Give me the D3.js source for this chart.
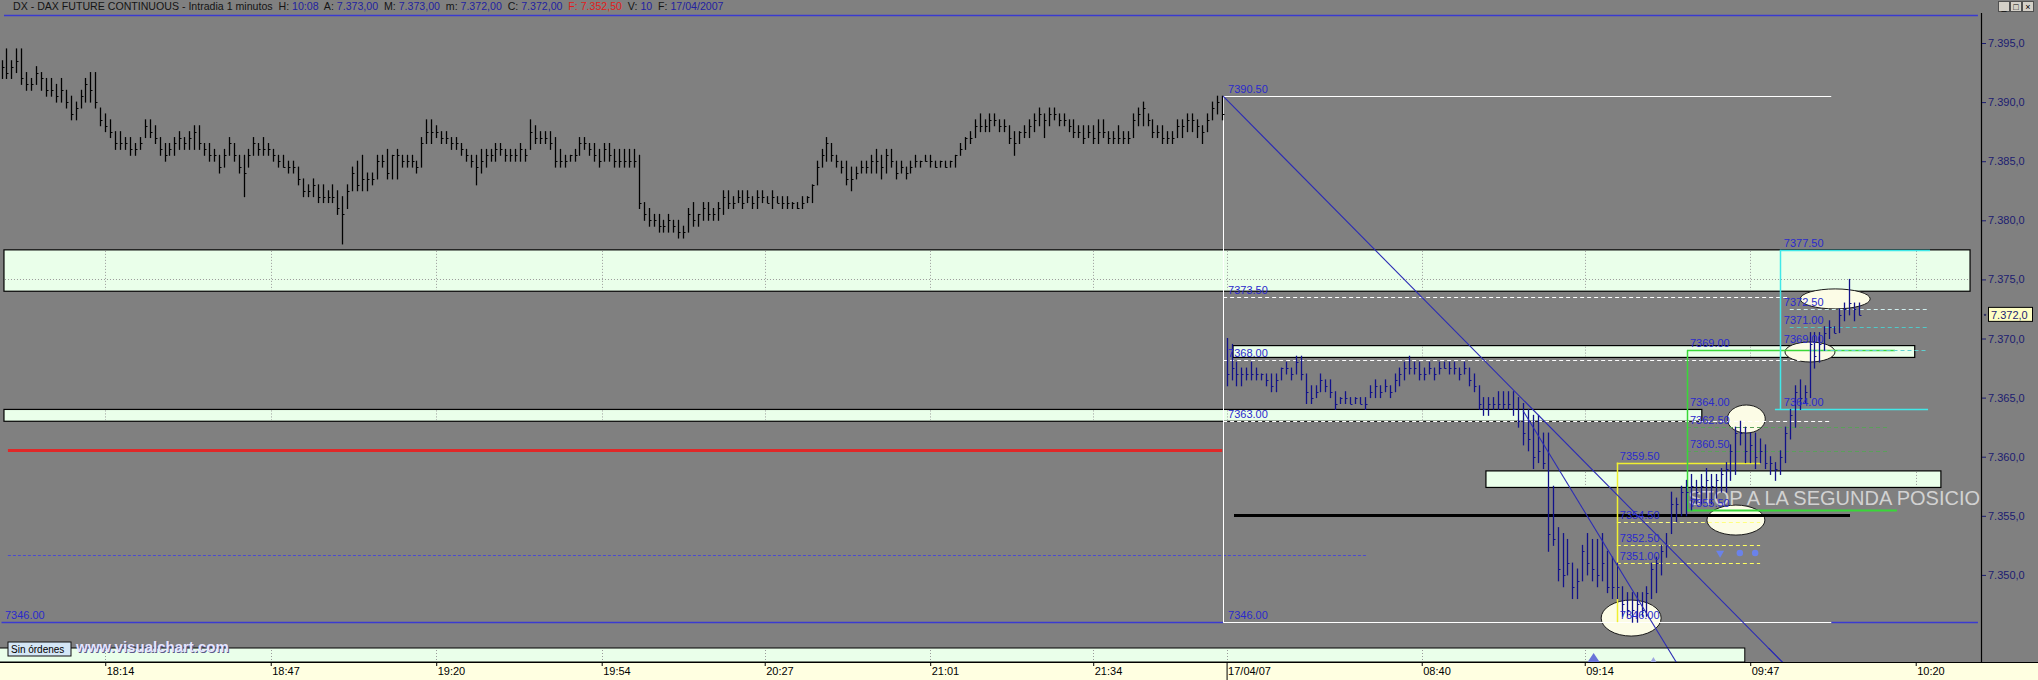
<!DOCTYPE html>
<html>
<head>
<meta charset="utf-8">
<script src="https://cdn.jsdelivr.net/npm/d3@7"></script>
<style>
  html, body { margin: 0; padding: 0; background: #808080; }
  svg { display: block; font-family: "Liberation Sans", Arial, sans-serif; }
</style>
</head>
<body>
<svg id="chart" width="2038" height="680"></svg>
<script>
'use strict';

// ---- data: 1-minute bars, day 1 = 16/04 17:53 .. 22:00, day 2 = 17/04 08:00 .. 10:08
var d1High = [
  7393.5, 7394.5, 7393.5, 7394.5, 7394.5, 7392.5, 7392, 7393, 7392.5, 7392,
  7392, 7391.5, 7392, 7391, 7390.5, 7390, 7391, 7392, 7392.5, 7392.5,
  7389.5, 7389, 7388.5, 7387.5, 7387.5, 7387, 7387, 7386.5, 7387, 7388.5,
  7388.5, 7388, 7387, 7386.5, 7386.5, 7387, 7387.5, 7387, 7387.5, 7388,
  7388, 7386.5, 7386.5, 7386, 7385.5, 7386, 7387, 7386.5, 7385.5, 7385.5,
  7386, 7387, 7386.5, 7387, 7386.5, 7386, 7385.5, 7385.5, 7385, 7385,
  7384.5, 7383.5, 7383, 7383.5, 7383, 7383, 7382.5, 7383, 7382.5, 7382,
  7383, 7384.5, 7385, 7385.5, 7384, 7384, 7385.5, 7385.5, 7386, 7385.5,
  7386, 7385.5, 7385.5, 7385.5, 7385, 7387, 7388.5, 7388.5, 7388, 7387.5,
  7387.5, 7387, 7387, 7386.5, 7386, 7385.5, 7385.5, 7386, 7386, 7386,
  7386.5, 7386.5, 7386, 7386, 7386, 7386.5, 7386, 7388.5, 7388, 7387.5,
  7387.5, 7387.5, 7387, 7386, 7385.5, 7385.5, 7386, 7387, 7387, 7386.5,
  7386.5, 7386, 7386.5, 7386.5, 7386, 7386, 7386, 7386, 7386, 7385.5,
  7381.5, 7381, 7380.5, 7380.5, 7380, 7380.5, 7380, 7380, 7379.5, 7381,
  7381.5, 7380.5, 7381.5, 7381.5, 7381, 7381.5, 7382.5, 7382.5, 7382, 7382.5,
  7382.5, 7382.5, 7382, 7382.5, 7382.5, 7382, 7382.5, 7382, 7382, 7382,
  7381.5, 7381.5, 7382, 7382, 7383, 7385, 7386, 7387, 7386.5, 7385.5,
  7385, 7385, 7384.5, 7384.5, 7385, 7385, 7385.5, 7386, 7385.5, 7386,
  7386, 7385, 7385, 7384.5, 7385, 7385.5, 7385, 7385.5, 7385.5, 7385,
  7385, 7385, 7385, 7385.5, 7386.5, 7387, 7387.5, 7388.5, 7389, 7388.5,
  7389, 7389, 7388.5, 7388.5, 7388, 7387.5, 7387.5, 7388, 7388.5, 7389,
  7389.5, 7389, 7389.5, 7389.5, 7389, 7389, 7388.5, 7388.5, 7388, 7388,
  7388, 7388, 7388.5, 7388.5, 7387.5, 7387.5, 7388, 7387.5, 7387.5, 7389,
  7389.5, 7390, 7389, 7388.5, 7388, 7388, 7387.5, 7387.5, 7388.5, 7388.5,
  7389, 7389, 7388.5, 7388, 7389, 7390, 7390.5, 7390.5
];
var d1Low = [
  7392, 7392, 7392, 7392.5, 7391.5, 7391, 7391, 7391.5, 7391, 7390.5,
  7390.5, 7390, 7390, 7389.5, 7388.5, 7388.5, 7389.5, 7390, 7390, 7389.5,
  7388, 7387.5, 7387, 7386, 7386, 7386, 7385.5, 7385.5, 7386, 7387,
  7387, 7386.5, 7385.5, 7385, 7385.5, 7385.5, 7386, 7386, 7386, 7386,
  7386, 7385.5, 7385, 7385, 7384, 7384.5, 7385.5, 7385, 7384, 7382,
  7384.5, 7385.5, 7385.5, 7385.5, 7385.5, 7385, 7384.5, 7384.5, 7384, 7384,
  7383, 7382, 7382, 7382, 7381.5, 7381.5, 7381.5, 7381.5, 7380.5, 7378,
  7381, 7382.5, 7382.5, 7382.5, 7382.5, 7383, 7383.5, 7384.5, 7383.5, 7383.5,
  7383.5, 7384.5, 7384.5, 7384.5, 7384, 7384.5, 7386.5, 7386.5, 7387, 7386.5,
  7386.5, 7386, 7386, 7385.5, 7385, 7384.5, 7383, 7384, 7384.5, 7385,
  7385, 7385.5, 7385, 7385, 7385, 7385, 7385, 7386, 7386.5, 7386.5,
  7386.5, 7386, 7384.5, 7384.5, 7384.5, 7385, 7385, 7385.5, 7386, 7385.5,
  7385, 7384.5, 7385, 7385, 7384.5, 7384.5, 7384.5, 7384.5, 7384.5, 7381,
  7380, 7379.5, 7379.5, 7379, 7379, 7379, 7379, 7378.5, 7378.5, 7379,
  7379.5, 7379.5, 7380, 7380, 7380, 7380, 7380.5, 7381, 7381, 7381.5,
  7381, 7381.5, 7381, 7381, 7381.5, 7381.5, 7381, 7381.5, 7381, 7381,
  7381, 7381, 7381, 7381.5, 7381.5, 7383, 7384.5, 7385, 7385, 7384.5,
  7384, 7383, 7382.5, 7383.5, 7384, 7384, 7384, 7384, 7383.5, 7384,
  7384.5, 7383.5, 7384, 7383.5, 7384, 7384.5, 7384.5, 7385, 7384.5, 7384.5,
  7384.5, 7384.5, 7384.5, 7384.5, 7385.5, 7386, 7386.5, 7387, 7387.5, 7387.5,
  7387.5, 7388, 7387.5, 7387.5, 7386.5, 7385.5, 7386.5, 7387, 7387, 7387.5,
  7388, 7387, 7388, 7388.5, 7388, 7388, 7387.5, 7387, 7387, 7386.5,
  7387, 7386.5, 7386.5, 7387, 7386.5, 7386.5, 7386.5, 7386.5, 7386.5, 7387,
  7388, 7388, 7388, 7387, 7387, 7386.5, 7386.5, 7386.5, 7387, 7387,
  7387.5, 7387.5, 7387, 7386.5, 7387.5, 7388.5, 7389, 7388.5
];
var d1Close = [
  7393, 7392.5, 7393, 7393.5, 7392, 7391.5, 7391.5, 7392.5, 7392, 7391,
  7391, 7390.5, 7391, 7390, 7389, 7389.5, 7390.5, 7391.5, 7391, 7390,
  7388.5, 7388, 7387.5, 7386.5, 7386.5, 7386.5, 7386, 7386, 7386.5, 7388,
  7387.5, 7387, 7386, 7385.5, 7386, 7386.5, 7387, 7386.5, 7387, 7387.5,
  7386.5, 7386, 7385.5, 7385.5, 7384.5, 7385.5, 7386.5, 7385.5, 7384.5, 7384,
  7385.5, 7386.5, 7386, 7386, 7386, 7385.5, 7385, 7384.5, 7384.5, 7384.5,
  7383.5, 7382.5, 7382.5, 7383, 7382, 7382, 7382, 7382, 7381, 7380.5,
  7382.5, 7384, 7383, 7383.5, 7383.5, 7383.5, 7385, 7385, 7384, 7385.5,
  7385.5, 7385, 7385, 7385, 7384.5, 7386.5, 7387.5, 7387.5, 7387.5, 7387,
  7387, 7386.5, 7386.5, 7386, 7385.5, 7385, 7384.5, 7385, 7385.5, 7385.5,
  7386, 7386, 7385.5, 7385.5, 7385.5, 7386, 7385.5, 7387.5, 7387, 7387,
  7387, 7386.5, 7385, 7385, 7385, 7385.5, 7385.5, 7386.5, 7386.5, 7386,
  7385.5, 7385, 7386, 7385.5, 7385, 7385, 7385, 7385, 7385, 7381.5,
  7380.5, 7380, 7380, 7379.5, 7379.5, 7380, 7379.5, 7379, 7379, 7380.5,
  7380, 7380.5, 7381, 7380.5, 7380.5, 7381, 7382, 7381.5, 7381.5, 7382,
  7381.5, 7382, 7381.5, 7382, 7382, 7381.5, 7382, 7381.5, 7381.5, 7381.5,
  7381.5, 7381, 7381.5, 7382, 7383, 7384.5, 7385.5, 7386.5, 7385.5, 7385,
  7384.5, 7383.5, 7383.5, 7384, 7384.5, 7384.5, 7385, 7385, 7384.5, 7385.5,
  7385, 7384, 7384.5, 7384, 7384.5, 7385, 7385, 7385, 7385, 7384.5,
  7385, 7384.5, 7385, 7385.5, 7386, 7387, 7387, 7388, 7388, 7388,
  7388.5, 7388.5, 7388, 7388, 7387, 7386.5, 7387.5, 7387.5, 7388, 7388.5,
  7389, 7388.5, 7389, 7389, 7388.5, 7388.5, 7388, 7387.5, 7387.5, 7387,
  7387.5, 7387, 7387.5, 7387.5, 7387, 7387, 7387, 7387, 7387, 7388.5,
  7389, 7389.5, 7388.5, 7387.5, 7387.5, 7387, 7387, 7387, 7388, 7388,
  7388.5, 7388.5, 7388, 7387.5, 7388.5, 7389.5, 7390, 7389
];
var d2High = [
  7370, 7369.5, 7368, 7367.5, 7367.5, 7368, 7367.5, 7367, 7367, 7367,
  7367, 7367.5, 7368, 7367.5, 7368.5, 7368.5, 7367, 7366, 7366, 7367,
  7366.5, 7366.5, 7365.5, 7365, 7365.5, 7365, 7365, 7365, 7365, 7366,
  7366.5, 7366, 7366.5, 7366, 7367, 7367.5, 7368, 7368.5, 7368, 7368,
  7367.5, 7368, 7367.5, 7368, 7368, 7368, 7368, 7367.5, 7368, 7367.5,
  7367, 7366, 7365, 7365, 7365, 7365.5, 7365.5, 7365.5, 7365.5, 7365,
  7364.5, 7364, 7363.5, 7363.5, 7362, 7362, 7357.5, 7354, 7353.5, 7353,
  7351, 7350.5, 7352.5, 7353.5, 7353, 7353, 7353.5, 7352, 7351.5, 7351,
  7349, 7348.5, 7348.5, 7348.5, 7348.5, 7349, 7351, 7351.5, 7352.5, 7353.5,
  7357, 7356.5, 7357.5, 7358, 7358.5, 7358, 7358.5, 7359, 7358.5, 7358.5,
  7359, 7359.5, 7361, 7362.5, 7363, 7362.5, 7362, 7362, 7361.5, 7361,
  7360, 7359.5, 7360.5, 7362.5, 7364, 7366, 7366.5, 7366, 7370.5, 7370.5,
  7370.5, 7371, 7371.5, 7371, 7372.5, 7373, 7375, 7373, 7373
];
var d2Low = [
  7366, 7366.5, 7366, 7366, 7366.5, 7366.5, 7366.5, 7366.5, 7366, 7365.5,
  7365.5, 7366.5, 7367, 7366.5, 7367, 7366.5, 7364.5, 7364.5, 7365, 7365.5,
  7365.5, 7365, 7364, 7364.5, 7364.5, 7364.5, 7364.5, 7364.5, 7364, 7365,
  7365, 7365, 7365.5, 7365, 7365.5, 7366, 7366.5, 7367, 7367, 7366.5,
  7366.5, 7367, 7366.5, 7367, 7367.5, 7367, 7367, 7366.5, 7367, 7366,
  7365.5, 7364, 7363.5, 7363.5, 7364, 7364, 7364, 7364, 7363.5, 7362.5,
  7361, 7360.5, 7359, 7359.5, 7359, 7352, 7352.5, 7349.5, 7349, 7350,
  7348, 7348, 7349.5, 7350, 7349.5, 7349, 7349.5, 7348.5, 7348, 7348,
  7346.5, 7346.5, 7346, 7346, 7346.5, 7346.5, 7348, 7348.5, 7350, 7351.5,
  7353.5, 7354.5, 7355, 7355, 7355.5, 7356, 7356, 7356.5, 7356, 7356.5,
  7357, 7357, 7358, 7358.5, 7361, 7359.5, 7359.5, 7359, 7359.5, 7359,
  7358.5, 7358, 7358.5, 7359.5, 7361.5, 7362.5, 7364, 7364.5, 7365, 7367.5,
  7368, 7369, 7370, 7370.5, 7370.5, 7371.5, 7372, 7371.5, 7372
];
var d2Close = [
  7367, 7367.5, 7367, 7367, 7367, 7367, 7367, 7367, 7366.5, 7366,
  7366.5, 7367.5, 7367.5, 7367, 7368, 7367, 7365.5, 7365, 7365.5, 7366.5,
  7366, 7365.5, 7364.5, 7365, 7365, 7364.5, 7365, 7364.5, 7364.5, 7365.5,
  7366, 7365.5, 7366, 7365.5, 7366.5, 7367, 7367.5, 7367.5, 7367.5, 7367,
  7367, 7367.5, 7367, 7367.5, 7367.5, 7367.5, 7367.5, 7367, 7367.5, 7366.5,
  7366, 7364.5, 7364, 7364.5, 7364.5, 7364.5, 7364.5, 7364.5, 7364, 7363,
  7362, 7361.5, 7360, 7360.5, 7359.5, 7353.5, 7353, 7350.5, 7350, 7351,
  7349, 7349.5, 7352, 7351, 7350.5, 7350, 7351, 7349, 7349, 7349,
  7347.5, 7347, 7347, 7347.5, 7347, 7348.5, 7350.5, 7351, 7352, 7352.5,
  7356, 7356, 7357, 7357, 7357.5, 7357, 7357.5, 7358, 7357.5, 7358,
  7358.5, 7359, 7360.5, 7362, 7362, 7360.5, 7361, 7360, 7360.5, 7359.5,
  7359.5, 7359, 7360, 7362, 7363.5, 7365.5, 7365, 7365.5, 7369.5, 7368.5,
  7369.5, 7370.5, 7371, 7370.5, 7372, 7372.5, 7373, 7372.5, 7372
];
var dayTwoStart = 248;

var tickIdx = [21, 54.5, 88, 121.5, 154.5, 188, 221, 248, 287.5, 320.5, 354, 387.5];
var tickLabels = ['18:14', '18:47', '19:20', '19:54', '20:27', '21:01', '21:34', '17/04/07', '08:40', '09:14', '09:47', '10:20'];
var priceTicks = [7350, 7355, 7360, 7365, 7370, 7375, 7380, 7385, 7390, 7395];
var lastPrice = 7372;

// ---- drawing
var W = 2038, H = 680;
var plot = {right: 1981, top: 13, bottom: 662};

var svg = d3.select('#chart');
svg.append('rect').attr('width', W).attr('height', H).attr('fill', '#808080');

var x = d3.scaleLinear().domain([0, 376]).range([1.5, 1858.9]);
var y = d3.scaleLinear().domain([7346, 7395]).range([622.2, 43]);

var bars = d1High.map(function(h, k) {
  return {i: k, h: h, l: d1Low[k], c: d1Close[k], day: 1};
}).concat(d2High.map(function(h, k) {
  return {i: dayTwoStart + k, h: h, l: d2Low[k], c: d2Close[k], day: 2};
}));

var defs = svg.append('defs');
defs.append('clipPath').attr('id', 'plotClip')
  .append('rect').attr('x', 0).attr('y', plot.top)
  .attr('width', plot.right).attr('height', plot.bottom - plot.top);
defs.append('clipPath').attr('id', 'stripClip')
  .append('rect').attr('x', 0).attr('y', 648).attr('width', plot.right).attr('height', 14);

var g = svg.append('g').attr('clip-path', 'url(#plotClip)');

// support / resistance bands
var bands = [
  {lo: 7374.0, hi: 7377.5, from: 0.5, to: 398.5},
  {lo: 7368.4, hi: 7369.4, from: 249.3, to: 387.3},
  {lo: 7363.0, hi: 7364.0, from: 0.5, to: 344.2},
  {lo: 7357.4, hi: 7358.8, from: 300.5, to: 392.6}
];

bands.forEach(function(b) {
  var bg = g.append('g');
  bg.append('rect')
    .attr('x', x(b.from)).attr('y', y(b.hi))
    .attr('width', x(b.to) - x(b.from)).attr('height', y(b.lo) - y(b.hi))
    .attr('fill', '#eaffea').attr('stroke', '#000').attr('stroke-width', 1.2);
  tickIdx.filter(function(t) { return t > b.from && t < b.to; }).forEach(function(t) {
    bg.append('line')
      .attr('x1', Math.round(x(t)) + 0.5).attr('x2', Math.round(x(t)) + 0.5)
      .attr('y1', y(b.hi) + 1).attr('y2', y(b.lo) - 1)
      .attr('stroke', '#9a9a9a').attr('stroke-dasharray', '1,2');
  });
  priceTicks.filter(function(p) { return p > b.lo && p < b.hi; }).forEach(function(p) {
    bg.append('line')
      .attr('x1', x(b.from) + 1).attr('x2', x(b.to) - 1)
      .attr('y1', Math.round(y(p)) + 0.5).attr('y2', Math.round(y(p)) + 0.5)
      .attr('stroke', '#9a9a9a').attr('stroke-dasharray', '1,2');
  });
});

// horizontal levels
var hLines = [
  {p: 7397.4, from: 0.5, to: 400.1, color: '#3a3ad0', w: 1.5},
  {p: 7346.0, from: 0, to: 247.3, color: '#3a3ad0', w: 1.5},
  {p: 7346.0, from: 370.4, to: 400.1, color: '#3a3ad0', w: 1.5},
  {p: 7390.5, from: 247.3, to: 370.4, color: '#ffffff', w: 1},
  {p: 7346.0, from: 247.3, to: 370.4, color: '#ffffff', w: 1},
  {p: 7373.5, from: 247.3, to: 362, color: '#ffffff', w: 1, dash: '4,3'},
  {p: 7368.2, from: 247.3, to: 364.1, color: '#ffffff', w: 1, dash: '4,3'},
  {p: 7363.0, from: 247.3, to: 370.1, color: '#ffffff', w: 1, dash: '4,3'},
  {p: 7360.6, from: 1.3, to: 247.1, color: '#e02828', w: 3},
  {p: 7351.7, from: 1.3, to: 276.6, color: '#4a4ad0', w: 1, dash: '3,2'},
  {p: 7355.05, from: 249.5, to: 374.2, color: '#000000', w: 3},
  {p: 7359.5, from: 327, to: 356, color: '#f0f030', w: 1.5},
  {p: 7354.5, from: 327, to: 356, color: '#ffff80', w: 1, dash: '4,3'},
  {p: 7352.5, from: 327, to: 356, color: '#ffff60', w: 1, dash: '4,3'},
  {p: 7351.0, from: 327, to: 356, color: '#ffff60', w: 1, dash: '4,3'},
  {p: 7369.0, from: 341.2, to: 383.3, color: '#38d838', w: 1.5},
  {p: 7355.5, from: 341.2, to: 383.7, color: '#38d838', w: 2},
  {p: 7362.5, from: 341.2, to: 381.7, color: '#5aa05a', w: 1, dash: '4,3'},
  {p: 7360.5, from: 341.2, to: 381.7, color: '#5aa05a', w: 1, dash: '4,3'},
  {p: 7377.5, from: 360, to: 390.4, color: '#40e8e8', w: 1.5},
  {p: 7364.0, from: 359, to: 390, color: '#40e8e8', w: 1.5},
  {p: 7372.5, from: 362, to: 390, color: '#d0f0f0', w: 1, dash: '4,3'},
  {p: 7371.0, from: 362, to: 390, color: '#50c8c8', w: 1, dash: '4,3'},
  {p: 7369.0, from: 366, to: 390, color: '#60d0d0', w: 1, dash: '4,3'}
];

var vLines = [
  {i: 247.3, hi: 7390.5, lo: 7346.0, color: '#ffffff', w: 1},
  {i: 327, hi: 7359.5, lo: 7346.0, color: '#f0f030', w: 1.5},
  {i: 341.2, hi: 7369.0, lo: 7355.5, color: '#38d838', w: 1.5},
  {i: 360, hi: 7377.5, lo: 7364.0, color: '#40e8e8', w: 1.5}
];

// ellipses marking entries / exits
var ovals = [
  {i: 371.2, p: 7373.35, rx: 35, ry: 10},
  {i: 366.1, p: 7368.86, rx: 25, ry: 10},
  {i: 353.2, p: 7363.19, rx: 19, ry: 14},
  {i: 351.1, p: 7354.64, rx: 29, ry: 15},
  {i: 329.9, p: 7346.35, rx: 30, ry: 18}
];

g.selectAll('ellipse.oval').data(ovals).enter().append('ellipse')
  .attr('class', 'oval')
  .attr('cx', function(d) { return x(d.i); })
  .attr('cy', function(d) { return y(d.p); })
  .attr('rx', function(d) { return d.rx; })
  .attr('ry', function(d) { return d.ry; })
  .attr('fill', '#fcfce6').attr('stroke', '#1a1a1a').attr('stroke-width', 1);

g.selectAll('line.level').data(hLines).enter().append('line')
  .attr('class', 'level')
  .attr('x1', function(d) { return x(d.from); })
  .attr('x2', function(d) { return x(d.to); })
  .attr('y1', function(d) { return Math.round(y(d.p)) + 0.5; })
  .attr('y2', function(d) { return Math.round(y(d.p)) + 0.5; })
  .attr('stroke', function(d) { return d.color; })
  .attr('stroke-width', function(d) { return d.w; })
  .attr('stroke-dasharray', function(d) { return d.dash || null; });

g.selectAll('line.vlevel').data(vLines).enter().append('line')
  .attr('class', 'vlevel')
  .attr('x1', function(d) { return Math.round(x(d.i)) + 0.5; })
  .attr('x2', function(d) { return Math.round(x(d.i)) + 0.5; })
  .attr('y1', function(d) { return y(d.hi); })
  .attr('y2', function(d) { return y(d.lo); })
  .attr('stroke', function(d) { return d.color; })
  .attr('stroke-width', function(d) { return d.w; });

// the note written on the chart
g.append('text')
  .attr('x', x(341.5)).attr('y', y(7355.9))
  .attr('font-size', 20).attr('fill', '#d2d2d2')
  .text('STOP A LA SEGUNDA POSICION');

// small blue markers
g.append('path')
  .attr('d', d3.symbol(d3.symbolTriangle, 28)())
  .attr('transform', 'translate(' + x(347.9) + ',' + y(7351.85) + ') rotate(180)')
  .attr('fill', '#6a82ea');
[351.9, 355].forEach(function(i) {
  g.append('circle').attr('cx', x(i)).attr('cy', y(7351.85)).attr('r', 3.2).attr('fill', '#6a82ea');
});

// price bars
var barG = g.append('g');
barG.selectAll('line.hl').data(bars).enter().append('line')
  .attr('class', 'hl')
  .attr('x1', function(d) { return Math.round(x(d.i)) + 0.5; })
  .attr('x2', function(d) { return Math.round(x(d.i)) + 0.5; })
  .attr('y1', function(d) { return y(d.h) - 0.5; })
  .attr('y2', function(d) { return y(d.l) + 0.5; })
  .attr('stroke', function(d) { return d.day === 1 ? '#000000' : '#12128a'; })
  .attr('stroke-width', 1.3);
barG.selectAll('line.cl').data(bars).enter().append('line')
  .attr('class', 'cl')
  .attr('x1', function(d) { return Math.round(x(d.i)) + 0.5; })
  .attr('x2', function(d) { return Math.round(x(d.i)) + 2.5; })
  .attr('y1', function(d) { return Math.round(y(d.c)) + 0.5; })
  .attr('y2', function(d) { return Math.round(y(d.c)) + 0.5; })
  .attr('stroke', function(d) { return d.day === 1 ? '#000000' : '#12128a'; })
  .attr('stroke-width', 1);

// trend lines
var trends = [
  {i1: 247.3, p1: 7390.5, i2: 360.8, p2: 7342.5},
  {i1: 308.0, p1: 7363.9, i2: 339.2, p2: 7342.5}
];
g.selectAll('line.trend').data(trends).enter().append('line')
  .attr('class', 'trend')
  .attr('x1', function(d) { return x(d.i1); })
  .attr('y1', function(d) { return y(d.p1); })
  .attr('x2', function(d) { return x(d.i2); })
  .attr('y2', function(d) { return y(d.p2); })
  .attr('stroke', '#2c2cb4').attr('stroke-width', 1.1);

// level labels
var labels = [
  {t: '7346.00', i: 0.7, p: 7346.0},
  {t: '7390.50', i: 248.3, p: 7390.5},
  {t: '7373.50', i: 248.3, p: 7373.5},
  {t: '7368.00', i: 248.3, p: 7368.2},
  {t: '7363.00', i: 248.3, p: 7363.0},
  {t: '7346.00', i: 248.3, p: 7346.0},
  {t: '7359.50', i: 327.6, p: 7359.5},
  {t: '7354.50', i: 327.6, p: 7354.5},
  {t: '7352.50', i: 327.6, p: 7352.5},
  {t: '7351.00', i: 327.6, p: 7351.0},
  {t: '7346.00', i: 327.6, p: 7346.0},
  {t: '7369.00', i: 341.8, p: 7369.0},
  {t: '7364.00', i: 341.8, p: 7364.0},
  {t: '7362.50', i: 341.8, p: 7362.5},
  {t: '7360.50', i: 341.8, p: 7360.5},
  {t: '7355.50', i: 341.8, p: 7355.5},
  {t: '7377.50', i: 360.8, p: 7377.5},
  {t: '7372.50', i: 360.8, p: 7372.5},
  {t: '7371.00', i: 360.8, p: 7371.0},
  {t: '7369.00', i: 360.8, p: 7369.4},
  {t: '7364.00', i: 360.8, p: 7364.0}
];
g.selectAll('text.lvl').data(labels).enter().append('text')
  .attr('class', 'lvl')
  .attr('x', function(d) { return x(d.i); })
  .attr('y', function(d) { return y(d.p) - 3; })
  .attr('font-size', 11).attr('fill', '#2a2acc')
  .text(function(d) { return d.t; });

// ---- order strip above the time axis
svg.append('rect').attr('x', -1).attr('y', 648).attr('width', x(352.9) + 1).attr('height', 14)
  .attr('fill', '#eaffea').attr('stroke', '#000').attr('stroke-width', 1);
tickIdx.filter(function(t) { return x(t) < x(352.9); }).forEach(function(t) {
  svg.append('line')
    .attr('x1', Math.round(x(t)) + 0.5).attr('x2', Math.round(x(t)) + 0.5)
    .attr('y1', 650).attr('y2', 661)
    .attr('stroke', '#9a9a9a').attr('stroke-dasharray', '1,2');
});
svg.append('path').attr('d', 'M' + x(322.3) + ',653 l6,9 l-12,0 z').attr('fill', '#6a74d8');
svg.append('path').attr('d', 'M' + x(334.4) + ',657 l3,5 l-6,0 z').attr('fill', '#a0a8e0');

// trend lines continue over the strip
svg.selectAll('line.trend2').data(trends).enter().append('line')
  .attr('class', 'trend2')
  .attr('x1', function(d) { return x(d.i1); })
  .attr('y1', function(d) { return y(d.p1); })
  .attr('x2', function(d) { return x(d.i2); })
  .attr('y2', function(d) { return y(d.p2); })
  .attr('clip-path', 'url(#stripClip)')
  .attr('stroke', '#2c2cb4').attr('stroke-width', 1.1);

svg.append('rect').attr('x', 8).attr('y', 642).attr('width', 63).attr('height', 14)
  .attr('fill', '#d4e6f6').attr('stroke', '#101010');
svg.append('text').attr('x', 11).attr('y', 653).attr('font-size', 10).attr('fill', '#000')
  .text('Sin órdenes');
svg.append('text').attr('x', 76).attr('y', 652).attr('font-size', 15).attr('font-weight', 'bold')
  .attr('fill', '#5a5a8a').attr('dx', 1).attr('dy', 1).text('www.visualchart.com');
svg.append('text').attr('x', 76).attr('y', 652).attr('font-size', 15).attr('font-weight', 'bold')
  .attr('fill', '#e4e4ff').text('www.visualchart.com');

// ---- time axis
svg.append('rect').attr('x', 0).attr('y', 662).attr('width', W).attr('height', 18).attr('fill', '#ffffe1');
svg.append('line').attr('x1', 0).attr('x2', W).attr('y1', 662.5).attr('y2', 662.5).attr('stroke', '#000');

var xAxis = svg.append('g')
  .attr('transform', 'translate(0,662)')
  .call(d3.axisBottom(x).tickValues(tickIdx).tickSize(4)
    .tickFormat(function(d, k) { return tickLabels[k]; }));
xAxis.select('.domain').remove();
xAxis.selectAll('.tick line').attr('stroke', '#000')
  .attr('y2', function(d) { return d === 248 ? 18 : 4; });
xAxis.selectAll('.tick text')
  .attr('text-anchor', 'start').attr('x', 1).attr('y', 5).attr('dy', '0.71em')
  .attr('font-family', '"Liberation Sans", Arial, sans-serif')
  .attr('font-size', 11).attr('fill', '#000');

// ---- price axis
svg.append('line').attr('x1', plot.right + 0.5).attr('x2', plot.right + 0.5)
  .attr('y1', plot.top).attr('y2', plot.bottom).attr('stroke', '#000').attr('stroke-width', 1.2);

var esLocale = d3.formatLocale({decimal: ',', thousands: '.', grouping: [3], currency: ['', '']});
var priceFmt = esLocale.format(',.1f');

var yAxis = svg.append('g')
  .attr('transform', 'translate(' + (plot.right + 1) + ',0)')
  .call(d3.axisRight(y).tickValues(priceTicks).tickSize(4).tickPadding(2).tickFormat(priceFmt));
yAxis.select('.domain').remove();
yAxis.selectAll('.tick line').attr('stroke', '#1c1c70');
yAxis.selectAll('.tick text')
  .attr('font-family', '"Liberation Sans", Arial, sans-serif')
  .attr('font-size', 11).attr('fill', '#1c1c70');

// last price tag
var tagY = y(lastPrice);
svg.append('circle').attr('cx', 1985).attr('cy', tagY).attr('r', 1.2).attr('fill', '#303060');
svg.append('rect').attr('x', 1988.5).attr('y', tagY - 7.5).attr('width', 44).attr('height', 14)
  .attr('fill', '#ffffc4').attr('stroke', '#000');
svg.append('text').attr('x', 1991).attr('y', tagY + 4).attr('font-size', 11).attr('fill', '#1c1c70')
  .text(priceFmt(lastPrice));

// ---- header
var header = svg.append('text').attr('x', 13).attr('y', 10).attr('font-size', 10.6)
  .attr('style', 'white-space: pre');
var headParts = [
  ['DX - DAX FUTURE CONTINUOUS - Intradia 1 minutos  H: ', '#141414'], ['10:08', '#2222a0'],
  ['  A: ', '#141414'], ['7.373,00', '#2222a0'],
  ['  M: ', '#141414'], ['7.373,00', '#2222a0'],
  ['  m: ', '#141414'], ['7.372,00', '#2222a0'],
  ['  C: ', '#141414'], ['7.372,00', '#2222a0'],
  ['  F: ', '#e01c1c'], ['7.352,50', '#e01c1c'],
  ['  V: ', '#141414'], ['10', '#2222a0'],
  ['  F: ', '#141414'], ['17/04/2007', '#2222a0']
];
headParts.forEach(function(p) {
  header.append('tspan').attr('fill', p[1]).text(p[0]);
});

// window buttons
['_', '\u25A1', '\u00D7'].forEach(function(s, k) {
  svg.append('rect').attr('x', 1998.5 + k * 12).attr('y', 1.5).attr('width', 11).attr('height', 10)
    .attr('fill', '#d4d0c8').attr('stroke', '#505050');
  svg.append('text').attr('x', 2004 + k * 12).attr('y', 10).attr('text-anchor', 'middle')
    .attr('font-size', 9).attr('fill', '#000').text(s);
});
</script>
</body>
</html>
